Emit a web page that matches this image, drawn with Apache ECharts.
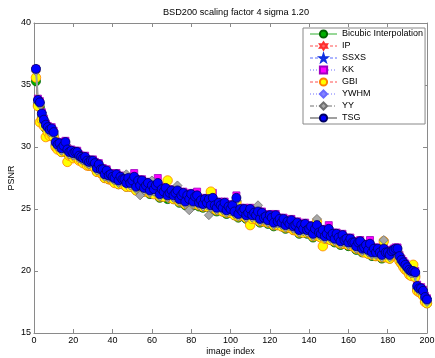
<!DOCTYPE html>
<html><head><meta charset="utf-8">
<script src="https://cdn.jsdelivr.net/npm/echarts@6/dist/echarts.min.js"></script>
<style>html,body{margin:0;padding:0;background:#fff}#c{width:435px;height:358px}</style>
</head><body><div id="c"></div>
<script>
var titleText = 'BSD200 scaling factor 4 sigma 1.20';
var seriesNames = ['Bicubic Interpolation','IP','SSXS','KK','GBI','YWHM','YY','TSG'];
var xTicks = [0,20,40,60,80,100,120,140,160,180,200];
var yTicks = [15,20,25,30,35,40];

var bicubic = [35.3,33.4,33.2,32.4,31.9,31.5,31.3,31.1,31.2,30.9,
30.1,29.9,30.0,29.6,29.8,30.1,29.5,29.3,29.4,29.2,
29.3,29.3,29.0,28.9,28.8,28.9,28.6,28.5,28.6,28.6,
28.4,28.0,28.3,27.9,27.9,27.5,27.8,27.4,27.5,27.3,
27.2,27.5,27.0,27.3,27.1,27.1,26.8,27.2,26.8,27.0,
27.3,26.5,27.0,26.6,27.0,26.4,26.6,26.8,26.2,26.6,
26.3,26.6,26.8,25.9,26.3,26.1,26.4,25.8,26.0,26.2,
25.8,26.0,26.2,25.5,25.8,26.0,25.3,25.8,25.5,25.9,
25.3,25.7,25.8,25.2,25.4,25.1,25.5,25.2,25.5,25.0,
25.6,25.0,24.8,25.2,25.0,24.8,25.2,24.6,24.9,24.7,
25.0,24.5,25.6,24.3,24.7,24.5,24.7,24.2,24.4,24.7,
24.2,24.4,24.2,24.5,23.9,24.4,24.0,24.1,23.8,24.2,
24.0,23.6,24.2,23.7,23.9,23.6,23.9,23.4,23.7,23.5,
23.8,23.3,23.4,23.6,23.0,23.4,23.1,23.5,23.0,23.1,
23.3,22.7,23.1,23.4,22.8,22.7,23.0,22.5,22.7,23.1,
22.5,22.7,22.3,22.7,22.4,22.1,22.6,22.2,22.3,22.0,
22.3,22.0,22.0,21.7,22.0,22.1,21.5,21.6,21.8,21.4,
21.9,21.2,21.5,21.2,21.5,21.2,21.0,21.5,21.2,21.2,
21.0,21.3,21.4,21.5,21.5,20.9,20.6,20.4,20.2,20.0,
19.8,19.7,19.7,19.6,18.5,18.3,18.3,18.1,17.6,17.4];

var ip = [36.2,33.7,33.4,32.6,32.1,31.7,31.5,31.3,31.3,31.1,
30.3,30.1,30.2,29.8,29.9,30.3,29.7,29.5,29.6,29.4,
29.5,29.4,29.2,29.1,29.0,29.1,28.8,28.7,28.8,28.8,
28.6,28.2,28.5,28.1,28.1,27.7,28.0,27.6,27.7,27.5,
27.4,27.7,27.2,27.5,27.3,27.3,27.0,27.4,27.0,27.2,
27.5,26.7,27.2,26.8,27.2,26.6,26.8,27.0,26.4,26.8,
26.5,26.8,27.0,26.1,26.5,26.3,26.6,26.0,26.2,26.4,
26.0,26.2,26.4,25.7,26.0,26.2,25.5,26.0,25.7,26.1,
25.5,25.9,26.0,25.4,25.6,25.3,25.7,25.4,25.7,25.2,
25.8,25.2,25.0,25.4,25.2,25.0,25.4,24.8,25.1,24.9,
25.2,24.7,25.8,24.5,24.9,24.7,24.9,24.4,24.6,24.9,
24.4,24.6,24.4,24.7,24.1,24.6,24.2,24.3,24.0,24.4,
24.2,23.8,24.4,23.9,24.1,23.8,24.1,23.6,23.9,23.7,
24.0,23.5,23.6,23.8,23.2,23.6,23.3,23.7,23.2,23.3,
23.5,22.9,23.3,23.6,23.0,22.9,23.2,22.7,22.9,23.3,
22.7,22.9,22.5,22.9,22.6,22.3,22.8,22.4,22.5,22.2,
22.5,22.2,22.2,21.9,22.2,22.3,21.7,21.8,22.0,21.6,
22.1,21.4,21.7,21.4,21.7,21.4,21.2,21.7,21.4,21.4,
21.2,21.5,21.6,21.7,21.7,21.1,20.8,20.6,20.4,20.2,
20.0,19.9,19.9,19.8,18.7,18.5,18.5,18.3,17.8,17.6];

var ssxs = [36.3,33.7,33.5,32.7,32.1,31.8,31.5,31.4,31.4,31.2,
30.3,30.2,30.2,29.9,30.0,30.4,29.7,29.6,29.6,29.5,
29.5,29.6,29.2,29.2,29.0,29.2,28.8,28.8,28.8,28.9,
28.6,28.3,28.5,28.2,28.1,27.8,28.0,27.7,27.7,27.6,
27.4,27.8,27.2,27.6,27.3,27.4,27.0,27.5,27.0,27.3,
27.5,26.8,27.2,26.9,27.2,26.7,26.8,27.1,26.4,26.9,
26.5,26.9,27.0,26.2,26.5,26.4,26.6,26.1,26.2,26.5,
26.0,26.3,26.4,25.8,26.0,26.3,25.5,26.1,25.7,26.2,
25.5,26.0,26.0,25.5,25.6,25.4,25.7,25.5,25.7,25.3,
25.8,25.3,25.0,25.5,25.2,25.1,25.4,24.9,25.1,25.0,
25.2,24.8,25.8,24.6,24.9,24.8,24.9,24.5,24.6,25.0,
24.4,24.7,24.4,24.8,24.1,24.7,24.2,24.4,24.0,24.5,
24.2,23.9,24.4,24.0,24.1,23.9,24.1,23.7,23.9,23.8,
24.0,23.6,23.6,23.9,23.2,23.7,23.3,23.8,23.2,23.4,
23.5,23.0,23.3,23.7,23.0,23.0,23.2,22.8,22.9,23.4,
22.7,23.0,22.5,23.0,22.6,22.4,22.8,22.5,22.5,22.3,
22.5,22.3,22.2,22.0,22.2,22.4,21.7,21.9,22.0,21.7,
22.1,21.5,21.7,21.5,21.7,21.5,21.2,21.8,21.4,21.5,
21.2,21.6,21.6,21.8,21.7,21.2,20.8,20.7,20.4,20.3,
20.0,20.0,19.9,19.9,18.7,18.6,18.5,18.4,17.8,17.7];

var kk = [36.3,33.9,33.7,32.8,32.3,31.9,31.7,31.5,31.6,31.3,
30.5,30.3,30.4,30.0,30.2,30.5,29.9,29.7,29.8,29.6,
29.7,29.7,29.4,29.3,29.2,29.3,29.0,28.9,28.9,29.0,
28.8,28.4,28.7,28.3,28.3,27.9,28.2,27.8,27.9,27.7,
27.6,27.9,27.4,27.7,27.5,27.5,27.2,27.6,27.2,27.4,
27.9,26.9,27.4,27.0,27.4,26.8,27.0,27.2,26.6,27.0,
26.7,27.0,27.5,26.3,26.7,26.5,26.8,26.2,26.4,26.6,
26.2,26.4,26.6,25.9,26.2,26.4,25.7,26.2,25.9,26.3,
25.7,26.1,26.4,25.6,25.8,25.5,25.9,25.6,25.9,25.4,
26.3,25.4,25.2,25.6,25.4,25.2,25.6,25.0,25.3,25.1,
25.4,24.9,26.1,24.7,25.1,24.9,25.1,24.6,24.8,25.1,
24.6,24.8,24.6,24.9,24.3,24.8,24.4,24.5,24.2,24.6,
24.4,24.0,24.6,24.1,24.3,24.0,24.3,23.8,24.1,23.9,
24.2,23.7,23.8,24.0,23.4,23.8,23.5,23.9,23.4,23.5,
23.7,23.1,23.5,23.8,23.2,23.1,23.4,22.9,23.1,23.7,
22.9,23.1,22.7,23.1,22.8,22.5,23.0,22.6,22.7,22.4,
22.7,22.4,22.4,22.1,22.4,22.5,21.9,22.0,22.2,21.8,
22.5,21.6,21.9,21.6,21.9,21.6,21.4,21.9,21.6,21.6,
21.4,21.7,21.8,21.9,21.9,21.3,21.0,20.8,20.6,20.4,
20.2,20.1,20.1,20.0,18.9,18.7,18.7,18.5,18.0,17.8];

var gbi = [35.6,33.3,32.0,32.2,31.7,30.8,31.2,30.9,31.0,30.8,
30.0,29.8,29.9,29.6,29.7,30.0,28.8,29.3,29.3,29.1,
29.2,29.2,28.9,28.9,28.7,28.8,28.5,28.5,28.5,28.5,
28.3,28.0,28.2,27.9,27.8,27.5,27.7,27.4,27.4,27.3,
27.1,27.4,27.0,27.2,27.0,27.0,26.8,27.1,26.8,26.9,
27.2,26.5,26.9,26.5,26.9,26.4,26.5,26.7,26.3,26.5,
26.2,26.5,26.7,26.0,26.2,26.0,26.3,27.3,25.9,26.1,
25.8,25.9,26.1,25.6,25.7,25.9,25.4,25.7,25.5,25.8,
25.4,25.6,25.7,25.3,25.3,25.2,25.4,25.2,25.4,26.4,
25.5,25.0,24.9,25.1,25.0,24.8,25.1,24.7,24.8,24.7,
24.9,24.5,25.5,24.4,24.6,24.5,24.6,24.3,24.4,23.7,
24.2,24.3,24.2,24.4,24.0,24.3,24.0,24.0,23.9,24.1,
23.9,23.7,24.1,23.7,23.8,23.6,23.8,23.5,23.6,23.5,
23.7,23.3,23.3,23.5,23.1,23.3,23.1,23.4,23.1,23.1,
23.2,22.8,23.0,24.0,22.8,22.7,22.0,22.6,22.7,23.0,
22.5,22.6,22.4,22.6,22.3,22.2,22.5,22.2,22.2,22.1,
22.2,22.0,22.0,21.8,21.9,22.0,21.6,21.5,21.7,21.4,
21.8,21.3,21.4,21.2,21.4,21.2,21.1,22.4,21.1,21.2,
21.0,21.2,21.3,21.4,21.4,20.8,20.6,20.3,20.1,20.0,
19.7,19.6,20.5,19.5,18.4,18.3,18.2,18.0,17.5,17.4];

var ywhm = [36.2,33.6,33.5,32.6,32.0,31.7,31.5,31.2,31.4,31.1,
30.3,30.0,30.2,29.8,30.0,30.2,29.7,29.5,29.5,29.4,
29.5,29.5,29.1,29.1,29.0,29.0,28.8,28.7,28.7,28.8,
28.5,28.2,28.5,28.1,28.1,27.7,27.9,27.6,27.7,27.5,
27.4,27.6,27.2,27.5,27.3,27.2,27.0,27.4,27.0,27.2,
27.4,26.7,27.2,26.8,27.1,26.6,26.8,27.0,26.4,26.8,
26.5,26.8,26.9,26.1,26.5,26.3,26.5,26.0,26.2,26.4,
26.0,26.2,26.3,25.7,26.0,26.2,25.5,26.0,25.7,26.0,
25.5,25.9,25.9,25.4,25.6,25.3,25.7,25.4,25.6,25.2,
25.7,25.2,25.0,25.4,25.2,25.0,25.3,24.8,25.1,24.9,
25.1,24.7,25.7,24.5,24.9,24.7,24.8,24.4,24.6,24.9,
24.4,24.6,24.4,24.6,24.1,24.6,24.2,24.3,24.0,24.3,
24.2,23.8,24.3,23.9,24.1,23.8,24.0,23.6,23.9,23.7,
23.9,23.5,23.6,23.8,23.2,23.6,23.3,23.7,23.2,23.3,
23.5,22.9,23.3,23.6,23.0,22.9,23.2,22.7,22.9,23.2,
22.7,22.9,22.5,22.9,22.6,22.3,22.8,22.4,22.5,22.2,
22.5,22.2,22.2,21.9,22.2,22.3,21.7,21.8,21.9,21.6,
22.0,21.4,21.7,21.4,21.7,21.4,21.2,21.7,21.4,21.4,
21.2,21.5,21.6,21.7,21.6,21.1,20.8,20.6,20.4,20.2,
20.0,19.9,19.9,19.8,18.7,18.5,18.5,18.3,17.8,17.6];

var yy = [36.1,33.6,33.4,32.5,32.0,31.6,31.4,31.2,31.3,31.0,
30.2,30.0,30.1,29.7,29.9,30.2,29.6,29.4,29.5,29.3,
29.4,29.4,29.1,29.0,28.9,29.0,28.7,28.6,28.7,28.7,
28.5,28.1,28.4,28.0,28.0,27.6,27.9,27.5,27.6,27.4,
27.3,27.6,27.1,27.4,27.2,27.2,27.8,27.3,26.9,27.1,
27.4,26.6,27.1,26.1,27.1,26.5,26.7,26.9,26.3,27.3,
26.4,26.7,26.9,26.0,26.4,26.2,26.5,25.9,26.1,26.3,
25.9,26.1,26.9,25.6,25.9,26.1,25.4,25.9,24.9,26.0,
25.4,25.8,25.9,25.3,25.5,25.2,25.6,25.3,24.5,25.1,
25.7,25.1,24.9,25.3,25.1,24.9,25.3,24.7,25.0,24.8,
25.1,24.6,25.7,24.4,24.8,24.6,24.8,24.3,24.5,24.8,
24.3,24.5,24.3,25.3,24.0,24.5,24.1,24.2,23.9,24.3,
24.1,23.7,24.3,23.8,24.0,23.7,24.0,23.5,23.8,23.6,
23.9,23.4,23.5,23.7,23.1,23.5,23.2,23.6,23.1,23.2,
23.4,22.8,23.2,24.2,22.9,22.8,23.1,22.6,22.8,23.2,
22.6,22.8,22.4,22.8,22.5,22.2,22.7,22.3,22.4,22.1,
22.4,22.1,22.1,21.8,22.1,22.2,21.6,21.7,21.9,21.5,
22.0,21.3,21.6,21.3,21.6,21.3,21.1,22.5,21.3,21.3,
21.1,21.4,21.5,21.6,21.6,21.0,20.7,20.5,20.3,20.1,
19.9,19.8,19.8,19.7,18.6,18.4,18.4,18.2,17.7,17.5];

var tsg = [36.3,33.8,33.6,32.7,32.2,31.8,31.6,31.4,31.5,31.2,
30.4,30.2,30.3,29.9,30.1,30.4,29.8,29.6,29.7,29.5,
29.6,29.6,29.3,29.2,29.1,29.2,28.9,28.8,28.9,28.9,
28.7,28.3,28.6,28.2,28.2,27.8,28.1,27.7,27.8,27.6,
27.5,27.8,27.3,27.6,27.4,27.4,27.1,27.5,27.1,27.3,
27.6,26.8,27.3,26.9,27.3,26.7,26.9,27.1,26.5,26.9,
26.6,26.9,27.1,26.2,26.6,26.4,26.7,26.1,26.3,26.5,
26.1,26.3,26.5,25.8,26.1,26.3,25.6,26.1,25.8,26.2,
25.6,26.0,26.1,25.5,25.7,25.4,25.8,25.5,25.8,25.3,
25.9,25.3,25.1,25.5,25.3,25.1,25.5,24.9,25.2,25.0,
25.3,24.8,25.9,24.6,25.0,24.8,25.0,24.5,24.7,25.0,
24.5,24.7,24.5,24.8,24.2,24.7,24.3,24.4,24.1,24.5,
24.3,23.9,24.5,24.0,24.2,23.9,24.2,23.7,24.0,23.8,
24.1,23.6,23.7,23.9,23.3,23.7,23.4,23.8,23.3,23.4,
23.6,23.0,23.4,23.7,23.1,23.0,23.3,22.8,23.0,23.4,
22.8,23.0,22.6,23.0,22.7,22.4,22.9,22.5,22.6,22.3,
22.6,22.3,22.3,22.0,22.3,22.4,21.8,21.9,22.1,21.7,
22.2,21.5,21.8,21.5,21.8,21.5,21.3,21.8,21.5,21.5,
21.3,21.6,21.7,21.8,21.8,21.2,20.9,20.7,20.5,20.3,
20.1,20.0,20.0,19.9,18.8,18.6,18.6,18.4,17.9,17.7];

var hexagram = 'path://M0,-10L2.89,-5L8.66,-5L5.77,0L8.66,5L2.89,5L0,10L-2.89,5L-8.66,5L-5.77,0L-8.66,-5L-2.89,-5Z';
var pentagram = 'path://M0,-10L2.25,-3.09L9.51,-3.09L3.63,1.18L5.88,8.09L0,3.82L-5.88,8.09L-3.63,1.18L-9.51,-3.09L-2.25,-3.09Z';

function pairs(arr){ return arr.map(function(v,i){ return [i+1, v]; }); }

var styles = [
  {data: bicubic, symbol:'circle', size:9, fill:'#00b000', border:'#006400', line:'#30b030', width:1, type:'solid'},
  {data: ip, symbol:hexagram, size:8, fill:'#ff6a6a', border:'#ff3030', line:'#ff5050', width:1, type:[3,2]},
  {data: ssxs, symbol:pentagram, size:9, fill:'#2a4cff', border:'#1030e0', line:'#5a6cff', width:1, type:[3,2]},
  {data: kk, symbol:'rect', size:7, fill:'#ff00ff', border:'#a000c0', line:'#7070ff', width:1, type:[1,2]},
  {data: gbi, symbol:'circle', size:9.5, fill:'#ffff00', border:'#ff8000', line:'#ff5050', width:1, type:[3,2]},
  {data: ywhm, symbol:'diamond', size:9, fill:'#8585ff', border:'#6a6aff', line:'#7070ff', width:1, type:[1,2]},
  {data: yy, symbol:'diamond', size:9, fill:'#a8a8a8', border:'#707070', line:'#707070', width:1, type:[4,2,1,2]},
  {data: tsg, symbol:'circle', size:9, fill:'#0000ff', border:'#000060', line:'#a0a0a0', width:2, type:'solid'}
];

var font = 'Liberation Sans, Arial, Helvetica, sans-serif';
var axisColor = '#8a8a8a';

var series = styles.map(function(s, k){
  return {
    name: seriesNames[k], type:'line', data: pairs(s.data), z: 2 + k,
    symbol: s.symbol, symbolSize: s.size, showSymbol: true,
    lineStyle: {color: s.line, width: s.width, type: s.type},
    itemStyle: {color: s.fill, borderColor: s.border, borderWidth: 0.8},
    emphasis: {disabled: true}, animation: false
  };
});

var legendData = styles.map(function(s, k){
  return {name: seriesNames[k], lineStyle: {width: s.width, color: s.line, type: s.type}};
});

function xAx(pos, labels){
  return {type:'value', position:pos, min:xTicks[0], max:xTicks[xTicks.length-1], interval:20,
    axisLine:{show:true, onZero:false, lineStyle:{color:axisColor, width:1}},
    axisTick:{show:true, inside:true, length:4, lineStyle:{color:axisColor}},
    axisLabel:{show:labels, color:'#000', fontSize:9, fontFamily:font, margin:3},
    splitLine:{show:false},
    name: labels ? 'image index' : '', nameLocation:'middle', nameGap:14, nameMoveOverlap:false,
    nameTextStyle:{color:'#000', fontSize:9, fontFamily:font}};
}
function yAx(pos, labels){
  return {type:'value', position:pos, min:yTicks[0], max:yTicks[yTicks.length-1], interval:5,
    axisLine:{show:true, onZero:false, lineStyle:{color:axisColor, width:1}},
    axisTick:{show:true, inside:true, length:4, lineStyle:{color:axisColor}},
    axisLabel:{show:labels, color:'#000', fontSize:9, fontFamily:font, margin:3},
    splitLine:{show:false},
    name: labels ? 'PSNR' : '', nameLocation:'middle', nameGap:18, nameRotate:90, nameMoveOverlap:false,
    nameTextStyle:{color:'#000', fontSize:9, fontFamily:font}};
}

var chart = echarts.init(document.getElementById('c'), null, {renderer:'canvas'});
chart.setOption({
  animation:false,
  backgroundColor:'#fff',
  title:{text:titleText, left:231, top:3, textAlign:'center',
    textStyle:{fontSize:9.2, fontWeight:'normal', color:'#000', fontFamily:font}},
  grid:{left:34, right:8, top:23, bottom:25, containLabel:false, outerBoundsMode:'none'},
  xAxis:[xAx('bottom', true), xAx('top', false)],
  yAxis:[yAx('left', true), yAx('right', false)],
  legend:{orient:'vertical', left:303, top:28,
    backgroundColor:'#fff', borderColor:'#888', borderWidth:1,
    padding:[0,2,0,6], itemGap:0, itemWidth:27, itemHeight:9,
    textStyle:{fontSize:9, color:'#000', fontFamily:font, lineHeight:12},
    data: legendData},
  series: series
});
</script>
</body></html>
